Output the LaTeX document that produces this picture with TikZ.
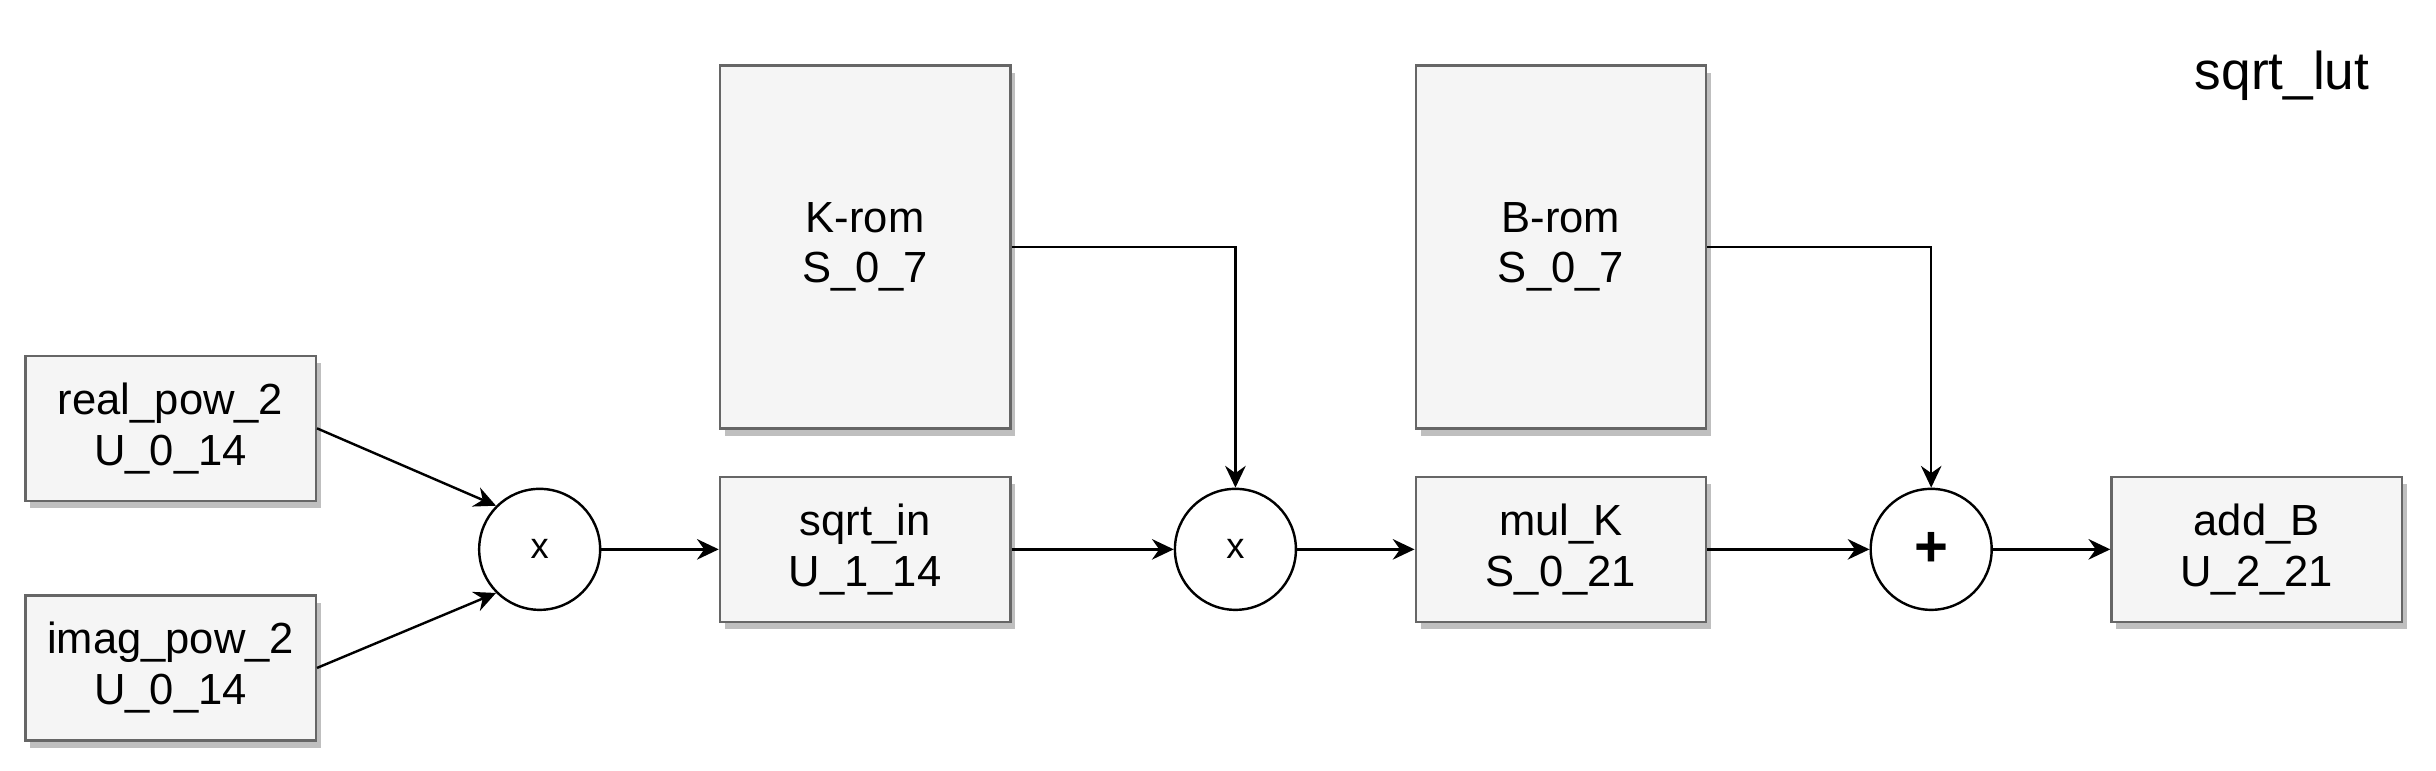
\documentclass[tikz,border=0pt]{standalone}
\usepackage{fontspec}
\setmainfont{Liberation Sans}
\usetikzlibrary{positioning, arrows.meta, shadows}

\begin{document}
\begin{tikzpicture}[x=1pt, y=1pt, line width=1pt,
     node distance = 48.5pt and 48.5pt,
              font = \fontsize{18}{21}\selectfont,
                 > = {Stealth[length=9pt, width=8.5pt, inset=3pt]},
        box/.style = {rectangle, draw=black!60, fill=black!4, align=center,
                      inner sep=0pt, minimum width=120pt, minimum height=60pt,
                      drop shadow={shadow xshift=2pt, shadow yshift=-3pt,
                                   fill=black!25, opacity=1}},
        rom/.style = {box, minimum height=150pt},
         op/.style = {circle, draw, fill=white, inner sep=0pt, minimum size=50pt,
                      font=\fontsize{15}{18}\selectfont}
                        ]
\useasboundingbox (0,0) rectangle (1006.6,-318.2);
\node (real)[box] at (70.5,-177) {real\_pow\_2\\U\_0\_14};
\node (imag)[box] at (70.5,-276) {imag\_pow\_2\\U\_0\_14};
\node (mul1)[op] at (223,-227) {x};
\node (sqrtin)[box, right =of mul1] {sqrt\_in\\U\_1\_14};
\node (krom)[rom, above =19pt of sqrtin] {K-rom\\S\_0\_7};
\node (mul2)[op, right =67pt of sqrtin] {x};
\node (mulk)[box, right =of mul2] {mul\_K\\S\_0\_21};
\node (brom)[rom, above =19pt of mulk] {B-rom\\S\_0\_7};
\node (add)[op, font=\fontsize{24}{26}\selectfont\bfseries, right =67pt of mulk] {+};
\node (addb)[box, right =of add] {add\_B\\U\_2\_21};
\node (title)[anchor=base, font=\fontsize{22}{26}\selectfont] at (943,-36.8) {sqrt\_lut};
\draw[->] (real.east) to (mul1.135);
\draw[->] (imag.east) to (mul1.225);
\draw[->] (mul1) to (sqrtin);
\draw[->] (sqrtin) to (mul2);
\draw[->] (krom.east) -| (mul2.north);
\draw[->] (mul2) to (mulk);
\draw[->] (mulk) to (add);
\draw[->] (brom.east) -| (add.north);
\draw[->] (add) to (addb);
\end{tikzpicture}
\end{document}
